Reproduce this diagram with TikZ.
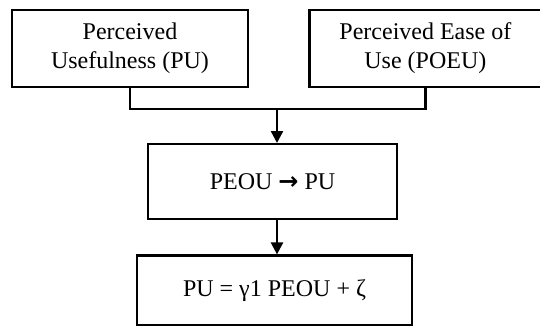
\documentclass[tikz,border=0pt]{standalone}
\usepackage{fontspec}
\setmainfont{Liberation Serif}
\newfontfamily\arrowfont{DejaVu Sans}
\usepackage{tikz}
\usetikzlibrary{positioning, arrows.meta, calc}

\begin{document}
\begin{tikzpicture}[font=\fontsize{12}{14.5}\selectfont, line width=1.2pt]
        \useasboundingbox (0,0) rectangle (270pt,-163pt);
        \tikzset{box/.style={draw, rectangle, align=center, inner sep=0pt}}

        \node[box, minimum width=118pt, minimum height=38.5pt] (usef) at (65pt,-24.25pt) {Perceived\\Usefulness (PU)};
        
        \node[box, minimum width=116pt, minimum height=38.5pt, right=29.5pt of usef] (ease) {Perceived Ease of\\Use (POEU)};
        
        \coordinate (join) at (138.5pt,-54.5pt);
        
        \node[box, minimum width=124.5pt, minimum height=37.5pt, below=17pt of join, xshift=-2.25pt] (rel) {PEOU {\arrowfont\bfseries →} PU};
        
        \node[box, minimum width=137.5pt, minimum height=34.8pt, below=17pt of rel, xshift=1pt] (eqn) {PU = γ1 PEOU + ζ};
        
        \draw (usef.south) |- (join) -| (ease.south);
        \draw[-{Triangle[length=6pt,width=6pt]}] (join) -- (join |- rel.north);
        \draw[-{Triangle[length=6pt,width=6pt]}] (rel.south -| join) -- (eqn.north -| join);
    \end{tikzpicture}
\end{document}
